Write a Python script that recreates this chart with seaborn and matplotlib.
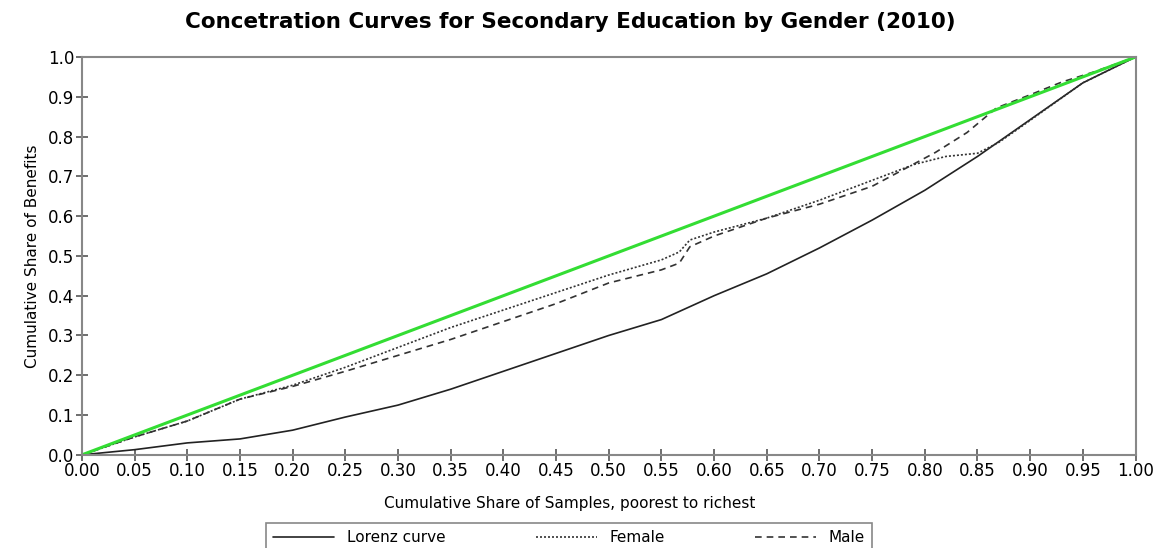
import numpy as np
import pandas as pd
import matplotlib
matplotlib.use("Agg")
import matplotlib.pyplot as plt
import seaborn as sns

# values
lorenz_x = [0, .05, .10, .15, .20, .25, .30, .35, .40, .45, .50, .55, .60, .65,
            .70, .75, .80, .85, .89, .95, 1.0]
lorenz_y = [0, .013, .03, .04, .062, .095, .125, .165, .21, .255, .30, .34, .40,
            .455, .52, .59, .665, .75, .824, .935, 1.0]

female_x = [0, .05, .10, .15, .20, .25, .30, .35, .40, .45, .50, .55, .567, .577,
            .60, .65, .70, .75, .79, .82, .85, .87, .89, .95, 1.0]
female_y = [0, .045, .085, .14, .175, .22, .27, .32, .364, .408, .452, .49, .51,
            .54, .56, .595, .64, .69, .73, .75, .758, .785, .822, .935, 1.0]

male_x = [0, .05, .10, .15, .20, .25, .30, .35, .40, .45, .50, .55, .567, .577,
          .60, .65, .70, .75, .81, .84, .868, .90, .93, .96, 1.0]
male_y = [0, .045, .085, .14, .172, .21, .25, .29, .335, .38, .432, .465, .482,
          .523, .55, .595, .63, .675, .76, .81, .872, .905, .937, .962, 1.0]

equal_x = [0, 1]
equal_y = [0, 1]

x_ticks = np.round(np.arange(0, 1.0001, 0.05), 2)
y_ticks = np.round(np.arange(0, 1.0001, 0.1), 1)

sns.set_style("white")
plt.rcParams['font.family'] = ['DejaVu Sans']
plt.rcParams['text.color'] = 'black'
plt.rcParams['axes.labelcolor'] = 'black'
plt.rcParams['xtick.color'] = 'black'
plt.rcParams['ytick.color'] = 'black'

fig = plt.figure(figsize=(11.54, 5.48), dpi=100)
ax = fig.add_axes([0.071, 0.170, 0.913, 0.726])

lorenz = pd.DataFrame({"x": lorenz_x, "y": lorenz_y})
female = pd.DataFrame({"x": female_x, "y": female_y})
male = pd.DataFrame({"x": male_x, "y": male_y})
equal = pd.DataFrame({"x": equal_x, "y": equal_y})

sns.lineplot(data=lorenz, x="x", y="y", ax=ax, color="#222222", lw=1.2,
             label="Lorenz curve", sort=False)
sns.lineplot(data=female, x="x", y="y", ax=ax, color="#333333", lw=1.2,
             linestyle=(0, (1.2, 1.2)), label="Female", sort=False)
sns.lineplot(data=male, x="x", y="y", ax=ax, color="#333333", lw=1.2,
             linestyle=(0, (4, 3)), label="Male", sort=False)
sns.lineplot(data=equal, x="x", y="y", ax=ax, color="#33dd33", lw=2.2,
             sort=False, legend=False)

ax.set_xlim(0, 1)
ax.set_ylim(0, 1)
ax.set_xticks(x_ticks)
ax.set_xticklabels([f"{v:.2f}" for v in x_ticks])
ax.set_yticks(y_ticks)
ax.set_yticklabels([f"{v:.1f}" for v in y_ticks])
ax.tick_params(axis="both", direction="inout", length=9, width=1.2,
               labelsize=12, pad=1, bottom=True, left=True,
               colors="black")
ax.tick_params(axis="both", color="#555555")
for s in ax.spines.values():
    s.set_color("#888888")
    s.set_linewidth(1.5)
ax.set_xlabel("")
ax.set_ylabel("Cumulative Share of Benefits", fontsize=11, labelpad=6)

fig.text(0.494, 0.96, "Concetration Curves for Secondary Education by Gender (2010)",
         ha="center", va="center", fontsize=15.5, fontweight="bold")
fig.text(0.494, 0.082, "Cumulative Share of Samples, poorest to richest",
         ha="center", va="center", fontsize=11)

handles, labels = ax.get_legend_handles_labels()
ax.legend_.remove()
leg = fig.legend(handles, labels, loc="upper left", ncol=3, mode="expand",
                 bbox_to_anchor=(258 / 1154, 0.0, 622 / 1154, 0.06),
                 fontsize=11, handlelength=4, fancybox=False, framealpha=1,
                 edgecolor="#888888", borderpad=0.5)
leg.get_frame().set_linewidth(1.2)

fig.savefig("out.png", dpi=100)
